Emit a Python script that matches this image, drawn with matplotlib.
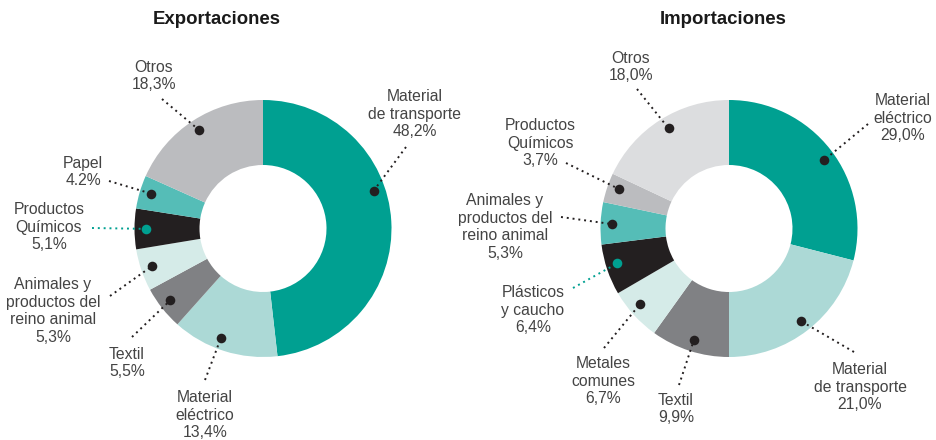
import numpy as np
import matplotlib

matplotlib.use("Agg")
import matplotlib.pyplot as plt  # noqa: E402

W, H = 936, 440

# --- data -----------------------------------------------------------------
exp_labels = ["Material\nde transporte", "Material\neléctrico", "Textil",
              "Animales y\nproductos del\nreino animal", "Productos\nQuímicos",
              "Papel", "Otros"]
exp_values = [48.2, 13.4, 5.5, 5.3, 5.1, 4.2, 18.3]
exp_texts = ["48,2%", "13,4%", "5,5%", "5,3%", "5,1%", "4.2%", "18,3%"]

imp_labels = ["Material\neléctrico", "Material\nde transporte", "Textil",
              "Metales\ncomunes", "Plásticos\ny caucho",
              "Animales y\nproductos del\nreino animal", "Productos\nQuímicos",
              "Otros"]
imp_values = [29.0, 21.0, 9.9, 6.7, 6.4, 5.3, 3.7, 18.0]
imp_texts = ["29,0%", "21,0%", "9,9%", "6,7%", "6,4%", "5,3%", "3,7%", "18,0%"]

# --- style ----------------------------------------------------------------
TEAL, LTEAL, GREY, VLTEAL = "#00a091", "#acd9d6", "#808184", "#d5ebe8"
BLACK, MTEAL, LGREY, VLGREY = "#231f20", "#55bdb7", "#bbbcbf", "#dcdddf"
TXT = "#444444"

exp_colors = [TEAL, LTEAL, GREY, VLTEAL, BLACK, MTEAL, LGREY]
imp_colors = [TEAL, LTEAL, GREY, VLTEAL, BLACK, MTEAL, LGREY, VLGREY]

# layout: (fraction along wedge (clockwise) for dot, text x, text y, line end x, line end y)
# pixel coords measured from the top
exp_layout = [
    (0.41, 415, 114, 406, 147),
    (0.57, 205, 415, 205, 380),
    (0.53, 127, 363, 132, 337),
    (0.51, 53, 311, 110, 296),
    (0.50, 49, 227, 92, 228),
    (0.55, 83, 172, 109, 181),
    (0.50, 154, 76, 162, 99),
]
imp_layout = [
    (0.52, 903, 118, 868, 124),
    (0.50, 860, 387, 854, 352),
    (0.49, 676, 409, 679, 385),
    (0.58, 603, 381, 604, 348),
    (0.56, 533, 310, 573, 288),
    (0.49, 505, 227, 561, 217),
    (0.59, 540, 143, 566, 163),
    (0.52, 631, 67, 637, 89),
]

plt.rcParams["font.family"] = ["Liberation Sans", "DejaVu Sans"]

fig = plt.figure(figsize=(W / 100, H / 100), dpi=100)
ax = fig.add_axes([0, 0, 1, 1])


def donut(cx, cy, values, colors, labels, texts, layout, title, title_x):
    R, r_in, r_dot = 128.5, 63.5, 117
    y0 = H - cy
    wedges, _ = ax.pie(values, colors=colors, startangle=90, counterclock=False,
                       center=(cx, y0), radius=R,
                       wedgeprops=dict(width=R - r_in, linewidth=0))
    for w, lab, txt, (f, tx, ty, lx, ly) in zip(wedges, labels, texts, layout):
        # wedges run clockwise, so measure from theta2
        ang = np.deg2rad(w.theta2 - f * (w.theta2 - w.theta1))
        dx, dy = cx + r_dot * np.cos(ang), y0 + r_dot * np.sin(ang)
        on_black = w.get_facecolor()[:3] == matplotlib.colors.to_rgb(BLACK)
        c = TEAL if on_black else BLACK
        ax.plot([lx, dx], [H - ly, dy], color=c, lw=1.4,
                linestyle=(0, (1, 2)), zorder=3)
        ax.scatter([dx], [dy], s=48, color=c, zorder=4, linewidths=0)
        ax.text(tx, H - ty, lab + "\n" + txt, ha="center", va="center",
                fontsize=11.3, color=TXT, linespacing=1.24)
    ax.text(title_x, H - 19, title, ha="center", va="center",
            fontsize=13.4, fontweight="bold", color="#1a1a1a")


donut(263, 228.5, exp_values, exp_colors, exp_labels, exp_texts, exp_layout,
      "Exportaciones", 217)
donut(729, 228.5, imp_values, imp_colors, imp_labels, imp_texts, imp_layout,
      "Importaciones", 723)

ax.set_xlim(0, W)
ax.set_ylim(0, H)
ax.set_aspect("auto")
ax.axis("off")

fig.savefig("out.png", dpi=100)
